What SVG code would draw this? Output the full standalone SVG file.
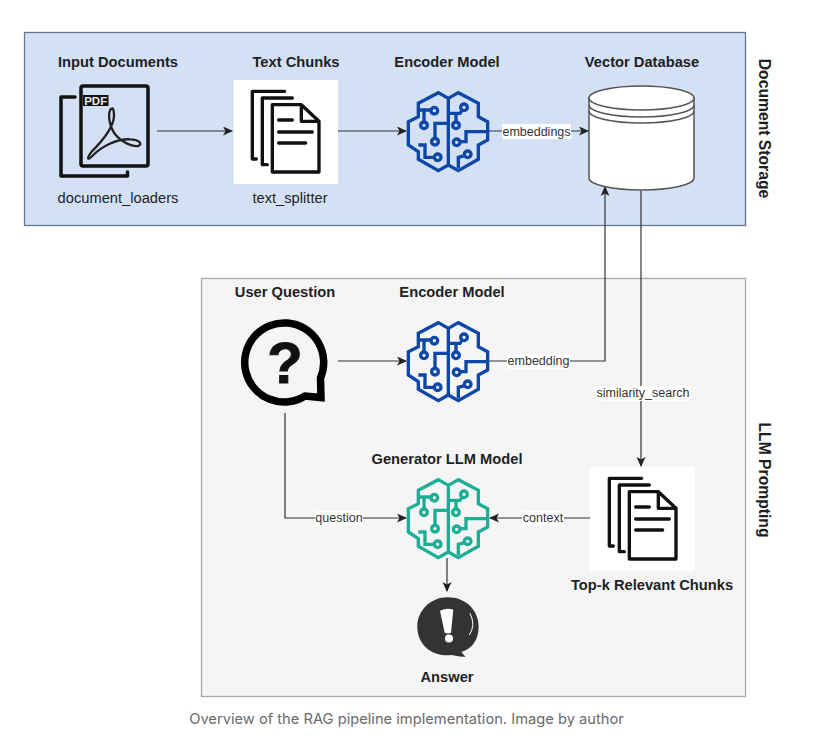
<svg xmlns="http://www.w3.org/2000/svg" xmlns:xlink="http://www.w3.org/1999/xlink" width="819" height="749" viewBox="0 0 819 749">
<style>
.t{font-family:"Liberation Sans",Arial,sans-serif;font-size:14.700px;fill:#1f1f1f;text-anchor:middle}
.b{font-weight:bold}
.v{font-size:15.700px}
.l{font-size:12.500px;fill:#333}
.lb{fill:#fff;stroke:none}
.c{fill:none;stroke:#333;stroke-width:1.200}
.doc{fill:none;stroke:#111;stroke-width:10;stroke-linejoin:round;stroke-linecap:round}
.br{fill:none;stroke-width:10;stroke-linejoin:miter}
</style>
<defs>
<marker id="a" markerWidth="11" markerHeight="10" refX="9" refY="4.500" orient="auto" markerUnits="userSpaceOnUse"><path d="M0 0L10 4.500L0 9L2.500 4.500Z" fill="#222"/></marker>
<g id="brain" class="br">
<path d="M205 85L175 68L115 100V140L85 155V225L115 245V268L175 302L205 285L235 302L295 268V225L323 210V155L295 140V100L235 68ZV285"/>
<path d="M115 120H153M132 120V156M205 160H165V205M115 225H135V262H163M205 130H240L246 121M228 130V156M323 185H258V215H240M235 295V262L254 257"/>
<circle cx="163" cy="122" r="10"/><circle cx="132" cy="166" r="10"/><circle cx="165" cy="215" r="10"/><circle cx="173" cy="262" r="10"/>
<circle cx="252" cy="112" r="10"/><circle cx="228" cy="166" r="10"/><circle cx="230" cy="217" r="10"/><circle cx="263" cy="253" r="10"/>
</g>
<g id="docs" class="doc">
<path d="M185 55H88V258H100M208 75H118V275H133"/>
<path d="M235 95H148V297H288V145ZV145H288"/>
<path d="M167 141H208M167 177H268M167 210H248"/>
</g>
</defs>
<rect width="819" height="749" fill="#fff"/>
<g id="panel-storage"><rect x="24.500" y="32.500" width="721" height="193" fill="#d4e1f5" stroke="#66768c" stroke-width="1.300"/><text class="t b v" transform="translate(759,128.500) rotate(90)">Document Storage</text></g>
<g id="panel-prompting"><rect x="201.500" y="278.500" width="544" height="418" fill="#f5f5f5" stroke="#a8a8a8" stroke-width="1.300"/><text class="t b v" transform="translate(759,480) rotate(90)">LLM Prompting</text></g>
<g id="connectors">
<path class="c" d="M157 131H232" marker-end="url(#a)"/>
<path class="c" d="M338 131H406" marker-end="url(#a)"/>
<path class="c" d="M488 131H588" marker-end="url(#a)"/>
<path class="c" d="M488 361H605V187" marker-end="url(#a)"/>
<path class="c" d="M641 191V466" marker-end="url(#a)"/>
<path class="c" d="M338 361H406" marker-end="url(#a)"/>
<path class="c" d="M285 413V518H406" marker-end="url(#a)"/>
<path class="c" d="M590 518H490" marker-end="url(#a)"/>
<path class="c" d="M447 558V591" marker-end="url(#a)"/>
<rect class="lb" x="502" y="124" width="69" height="15"/><text class="t l" x="536.500" y="135.500">embeddings</text>
<rect class="lb" x="507" y="354" width="63" height="15"/><text class="t l" x="538.500" y="365">embedding</text>
<rect class="lb" x="596" y="386" width="94" height="15"/><text class="t l" x="643" y="397">similarity_search</text>
<rect class="lb" x="315" y="511" width="48" height="15"/><text class="t l" x="339" y="522">question</text>
<rect class="lb" x="522" y="511" width="42" height="15"/><text class="t l" x="543" y="522">context</text>
</g>
<g id="input-documents">
<text class="t b" x="118" y="67">Input Documents</text>
<path d="M75 97H61V176H127.500V172" fill="none" stroke="#111" stroke-width="3.500" stroke-linejoin="round" stroke-linecap="round"/>
<rect x="81" y="86" width="67" height="80" rx="2" fill="none" stroke="#111" stroke-width="3.500"/>
<rect x="83" y="95" width="25.500" height="11" fill="#111"/>
<text x="95.700" y="104.800" text-anchor="middle" font-family="'Liberation Sans',Arial,sans-serif" font-weight="bold" font-size="11.500" fill="#eee">PDF</text>
<path transform="translate(30,40) scale(.3333)" d="M248 205C235 205 232 240 250 275C265 300 300 320 325 318C340 312 325 298 300 298C260 296 215 320 190 345C170 365 170 355 185 335C220 300 250 260 252 230C252 215 250 205 248 205Z" fill="none" stroke="#222" stroke-width="7"/>
<text class="t" x="118" y="203">document_loaders</text>
</g>
<g id="text-chunks">
<text class="t b" x="296" y="67">Text Chunks</text>
<rect x="233.500" y="80" width="104.500" height="104" fill="#fff"/>
<use xlink:href="#docs" href="#docs" transform="translate(223,73) scale(.3333)"/>
<text class="t" x="290" y="203">text_splitter</text>
</g>
<g id="encoder-1">
<text class="t b" x="447" y="67">Encoder Model</text>
<use xlink:href="#brain" href="#brain" stroke="#0d47a8" transform="translate(380,70) scale(.3333)"/>
</g>
<g id="vector-database">
<text class="t b" x="642" y="67">Vector Database</text>
<path d="M589 98V178A52.500 12 0 0 0 694 178V98Z" fill="#fff" stroke="#555" stroke-width="1.500"/>
<ellipse cx="641.500" cy="98" rx="52.500" ry="12" fill="#fff" stroke="#555" stroke-width="1.500"/>
<path d="M589 105A52.500 12 0 0 0 694 105M589 111A52.500 12 0 0 0 694 111" fill="none" stroke="#555" stroke-width="1.500"/>
</g>
<g id="user-question">
<text class="t b" x="285" y="297">User Question</text>
<path d="M305 396A39.500 39.500 0 1 1 320.500 378L321 397.500Z" fill="none" stroke="#000" stroke-width="7.500" stroke-linejoin="miter"/>
<text x="285" y="382.500" text-anchor="middle" font-family="'Liberation Sans',Arial,sans-serif" font-weight="bold" font-size="58" fill="#111" stroke="#111" stroke-width="1">?</text>
</g>
<g id="encoder-2">
<text class="t b" x="452" y="297">Encoder Model</text>
<use xlink:href="#brain" href="#brain" stroke="#0d47a8" transform="translate(380,300) scale(.3333)"/>
</g>
<g id="generator">
<text class="t b" x="447" y="464">Generator LLM Model</text>
<use xlink:href="#brain" href="#brain" stroke="#1eae96" transform="translate(380,457) scale(.3333)"/>
</g>
<g id="top-k">
<rect x="590" y="467" width="104.500" height="104" fill="#fff"/>
<use xlink:href="#docs" href="#docs" transform="translate(580,460) scale(.3333)"/>
<text class="t b" x="652" y="590">Top-k Relevant Chunks</text>
</g>
<g id="answer">
<path transform="translate(400,465) scale(.3333)" d="M143 397C200 397 236 438 236 485C236 525 215 552 185 560C188 568 195 573 197 575C178 576 165 572 155 570C90 576 52 535 52 485C52 438 90 397 143 397Z" fill="#333"/>
<path transform="translate(400,465) scale(.3333)" d="M120 437Q140 428 160 434L153 503Q143 508 134 503Z" fill="#fff"/>
<circle cx="449" cy="638.500" r="4" fill="#fff"/>
<path transform="translate(400,465) scale(.3333)" d="M210 445Q228 480 208 510" fill="none" stroke="#fff" stroke-width="3"/>
<text class="t b" x="447" y="682">Answer</text>
</g>
<g id="caption"><text x="406.500" y="724" text-anchor="middle" font-family="Inter,'Noto Sans',sans-serif" font-size="14.700" fill="#6b6b6b">Overview of the RAG pipeline implementation. Image by author</text></g>
</svg>
